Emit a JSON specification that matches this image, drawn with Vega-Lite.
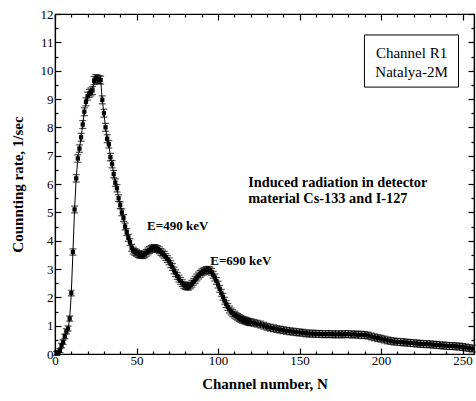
{
  "$schema": "https://vega.github.io/schema/vega-lite/v6.json",
  "autosize": "none",
  "width": 419,
  "height": 340,
  "padding": {"left": 55, "top": 14, "right": 2, "bottom": 47},
  "background": "white",
  "config": {
    "view": {"stroke": "black", "strokeWidth": 1.2},
    "font": "Times New Roman, Liberation Serif, serif",
    "axis": {"labelFont": "Times New Roman, Liberation Serif, serif", "labelFontSize": 13, "labelColor": "black", "titleFont": "Times New Roman, Liberation Serif, serif", "titleFontSize": 15, "titleFontWeight": "bold", "titleColor": "black", "grid": false, "tickColor": "black", "domainColor": "black", "tickWidth": 1.2, "domainWidth": 1.2}
  },
  "datasets": {
    "spec": [
      {"n":1,"r":0.02,"e":0.07},{"n":2,"r":0.05,"e":0.07},{"n":3,"r":0.12,"e":0.07},{"n":4,"r":0.3,"e":0.08},{"n":5,"r":0.42,"e":0.08},
      {"n":6,"r":0.62,"e":0.08},{"n":7,"r":0.8,"e":0.09},{"n":8,"r":0.9,"e":0.09},{"n":9,"r":1.25,"e":0.09},{"n":10,"r":2.15,"e":0.1},
      {"n":11,"r":3.6,"e":0.11},{"n":12,"r":5.1,"e":0.12},{"n":13,"r":6.2,"e":0.13},{"n":14,"r":6.9,"e":0.13},{"n":15,"r":7.25,"e":0.13},
      {"n":16,"r":7.65,"e":0.14},{"n":17,"r":8.1,"e":0.14},{"n":18,"r":8.55,"e":0.14},{"n":19,"r":8.9,"e":0.14},{"n":20,"r":9.1,"e":0.14},
      {"n":21,"r":9.2,"e":0.14},{"n":22,"r":9.25,"e":0.14},{"n":23,"r":9.3,"e":0.14},{"n":24,"r":9.65,"e":0.14},{"n":25,"r":9.72,"e":0.14},
      {"n":26,"r":9.7,"e":0.14},{"n":27,"r":9.68,"e":0.14},{"n":28,"r":9.67,"e":0.14},{"n":29,"r":8.97,"e":0.14},{"n":30,"r":8.5,"e":0.14},
      {"n":31,"r":8.0,"e":0.14},{"n":32,"r":7.6,"e":0.14},{"n":33,"r":7.4,"e":0.13},{"n":34,"r":6.95,"e":0.13},{"n":35,"r":6.7,"e":0.13},
      {"n":36,"r":6.35,"e":0.13},{"n":37,"r":6.05,"e":0.13},{"n":38,"r":5.85,"e":0.13},{"n":39,"r":5.5,"e":0.12},{"n":40,"r":5.25,"e":0.12},
      {"n":41,"r":5.0,"e":0.12},{"n":42,"r":4.8,"e":0.12},{"n":43,"r":4.5,"e":0.12},{"n":44,"r":4.3,"e":0.12},{"n":45,"r":4.1,"e":0.12},
      {"n":46,"r":3.95,"e":0.12},{"n":47,"r":3.75,"e":0.12},{"n":48,"r":3.65,"e":0.12},{"n":49,"r":3.6,"e":0.12},{"n":50,"r":3.57,"e":0.12},
      {"n":51,"r":3.53,"e":0.12},{"n":52,"r":3.5,"e":0.12},{"n":53,"r":3.5,"e":0.12},{"n":54,"r":3.49,"e":0.12},{"n":55,"r":3.52,"e":0.12},
      {"n":56,"r":3.57,"e":0.12},{"n":57,"r":3.62,"e":0.12},{"n":58,"r":3.67,"e":0.12},{"n":59,"r":3.71,"e":0.12},{"n":60,"r":3.73,"e":0.12},
      {"n":61,"r":3.74,"e":0.12},{"n":62,"r":3.72,"e":0.12},{"n":63,"r":3.7,"e":0.12},{"n":64,"r":3.66,"e":0.12},{"n":65,"r":3.6,"e":0.12},
      {"n":66,"r":3.55,"e":0.12},{"n":67,"r":3.5,"e":0.12},{"n":68,"r":3.42,"e":0.12},{"n":69,"r":3.35,"e":0.12},{"n":70,"r":3.27,"e":0.12},
      {"n":71,"r":3.17,"e":0.12},{"n":72,"r":3.07,"e":0.12},{"n":73,"r":2.95,"e":0.12},{"n":74,"r":2.85,"e":0.12},{"n":75,"r":2.75,"e":0.12},
      {"n":76,"r":2.66,"e":0.12},{"n":77,"r":2.58,"e":0.12},{"n":78,"r":2.5,"e":0.12},{"n":79,"r":2.43,"e":0.12},{"n":80,"r":2.4,"e":0.12},
      {"n":81,"r":2.38,"e":0.12},{"n":82,"r":2.38,"e":0.12},{"n":83,"r":2.42,"e":0.12},{"n":84,"r":2.48,"e":0.12},{"n":85,"r":2.55,"e":0.12},
      {"n":86,"r":2.62,"e":0.12},{"n":87,"r":2.7,"e":0.12},{"n":88,"r":2.77,"e":0.12},{"n":89,"r":2.83,"e":0.12},{"n":90,"r":2.88,"e":0.12},
      {"n":91,"r":2.91,"e":0.12},{"n":92,"r":2.94,"e":0.12},{"n":93,"r":2.96,"e":0.12},{"n":94,"r":2.97,"e":0.12},{"n":95,"r":2.95,"e":0.12},
      {"n":96,"r":2.9,"e":0.12},{"n":97,"r":2.8,"e":0.12},{"n":98,"r":2.7,"e":0.12},{"n":99,"r":2.58,"e":0.12},{"n":100,"r":2.45,"e":0.12},
      {"n":101,"r":2.3,"e":0.12},{"n":102,"r":2.16,"e":0.12},{"n":103,"r":2.02,"e":0.12},{"n":104,"r":1.88,"e":0.12},{"n":105,"r":1.76,"e":0.12},
      {"n":106,"r":1.66,"e":0.12},{"n":107,"r":1.57,"e":0.12},{"n":108,"r":1.5,"e":0.12},{"n":109,"r":1.44,"e":0.12},{"n":110,"r":1.39,"e":0.12},
      {"n":111,"r":1.35,"e":0.12},{"n":112,"r":1.31,"e":0.12},{"n":113,"r":1.27,"e":0.12},{"n":114,"r":1.24,"e":0.12},{"n":115,"r":1.21,"e":0.12},
      {"n":116,"r":1.19,"e":0.12},{"n":117,"r":1.17,"e":0.12},{"n":118,"r":1.15,"e":0.12},{"n":119,"r":1.13,"e":0.12},{"n":120,"r":1.12,"e":0.12},
      {"n":122,"r":1.1,"e":0.12},{"n":124,"r":1.07,"e":0.12},{"n":126,"r":1.04,"e":0.12},{"n":128,"r":1.0,"e":0.12},{"n":130,"r":0.96,"e":0.12},
      {"n":132,"r":0.93,"e":0.12},{"n":134,"r":0.91,"e":0.12},{"n":136,"r":0.88,"e":0.12},{"n":138,"r":0.86,"e":0.12},{"n":140,"r":0.84,"e":0.12},
      {"n":142,"r":0.82,"e":0.12},{"n":144,"r":0.8,"e":0.12},{"n":146,"r":0.79,"e":0.12},{"n":148,"r":0.77,"e":0.12},{"n":150,"r":0.76,"e":0.12},
      {"n":152,"r":0.75,"e":0.12},{"n":154,"r":0.73,"e":0.12},{"n":156,"r":0.72,"e":0.12},{"n":158,"r":0.72,"e":0.12},{"n":160,"r":0.71,"e":0.12},
      {"n":162,"r":0.71,"e":0.12},{"n":164,"r":0.7,"e":0.12},{"n":166,"r":0.7,"e":0.12},{"n":168,"r":0.7,"e":0.12},{"n":170,"r":0.7,"e":0.12},
      {"n":172,"r":0.69,"e":0.12},{"n":174,"r":0.7,"e":0.12},{"n":176,"r":0.69,"e":0.12},{"n":178,"r":0.7,"e":0.12},{"n":180,"r":0.7,"e":0.12},
      {"n":182,"r":0.69,"e":0.12},{"n":184,"r":0.69,"e":0.12},{"n":186,"r":0.68,"e":0.12},{"n":188,"r":0.68,"e":0.12},{"n":190,"r":0.67,"e":0.12},
      {"n":192,"r":0.65,"e":0.12},{"n":194,"r":0.62,"e":0.12},{"n":196,"r":0.59,"e":0.12},{"n":198,"r":0.56,"e":0.12},{"n":200,"r":0.54,"e":0.12},
      {"n":202,"r":0.51,"e":0.12},{"n":204,"r":0.48,"e":0.12},{"n":206,"r":0.46,"e":0.12},{"n":208,"r":0.44,"e":0.12},{"n":210,"r":0.43,"e":0.12},
      {"n":212,"r":0.42,"e":0.12},{"n":214,"r":0.41,"e":0.12},{"n":216,"r":0.4,"e":0.12},{"n":218,"r":0.39,"e":0.12},{"n":220,"r":0.38,"e":0.12},
      {"n":222,"r":0.37,"e":0.12},{"n":224,"r":0.36,"e":0.12},{"n":226,"r":0.35,"e":0.12},{"n":228,"r":0.35,"e":0.12},{"n":230,"r":0.34,"e":0.12},
      {"n":232,"r":0.33,"e":0.12},{"n":234,"r":0.32,"e":0.12},{"n":236,"r":0.31,"e":0.12},{"n":238,"r":0.3,"e":0.12},{"n":240,"r":0.29,"e":0.12},
      {"n":242,"r":0.28,"e":0.12},{"n":244,"r":0.28,"e":0.12},{"n":246,"r":0.27,"e":0.12},{"n":248,"r":0.26,"e":0.12},{"n":250,"r":0.25,"e":0.12},
      {"n":252,"r":0.23,"e":0.12},{"n":254,"r":0.21,"e":0.12},{"n":256,"r":0.19,"e":0.12}
    ],
    "notes": [
      {"x":56.5,"y":4.52,"t":"E=490 keV"},
      {"x":95.2,"y":3.28,"t":"E=690 keV"}
    ],
    "induced": [
      {"x":118.5,"y":6.04,"t":"Induced radiation in detector"},
      {"x":118.5,"y":5.47,"t":"material Cs-133 and I-127"}
    ],
    "box": [{"x1":189.8,"x2":247.5,"y1":9.42,"y2":11.26}],
    "boxtext": [
      {"x":218.7,"y":10.62,"t":"Channel R1"},
      {"x":218.7,"y":9.95,"t":"Natalya-2M"}
    ]
  },
  "resolve": {"axis": {"x": "independent", "y": "independent"}},
  "layer": [
    {
      "data": {"name": "spec"},
      "mark": {"type": "line", "color": "black", "strokeWidth": 1},
      "encoding": {
        "x": {"field": "n", "type": "quantitative", "scale": {"domain": [0, 257], "nice": false, "zero": false},
              "axis": {"orient": "bottom", "values": [0,50,100,150,200,250], "tickSize": -6, "labelPadding": 6, "title": "Channel number, N", "titlePadding": 9, "labelFlush": false}},
        "y": {"field": "r", "type": "quantitative", "scale": {"domain": [0, 12], "nice": false, "zero": false},
              "axis": {"orient": "left", "values": [0,1,2,3,4,5,6,7,8,9,10,11,12], "tickSize": -6, "labelPadding": 8, "title": "Counnting rate, 1/sec", "titlePadding": 15}}
      }
    },
    {
      "data": {"name": "spec"},
      "mark": {"type": "errorbar", "color": "black", "thickness": 1.2, "ticks": {"size": 7, "thickness": 1.2, "color": "black"}},
      "encoding": {
        "x": {"field": "n", "type": "quantitative", "axis": {"orient": "bottom", "values": [10,20,30,40,60,70,80,90,110,120,130,140,160,170,180,190,210,220,230,240], "tickSize": -3, "labels": false, "domain": false, "title": null}},
        "y": {"field": "r", "type": "quantitative", "axis": {"orient": "left", "values": [0.5,1.5,2.5,3.5,4.5,5.5,6.5,7.5,8.5,9.5,10.5,11.5], "tickSize": -3, "labels": false, "domain": false, "title": null}},
        "yError": {"field": "e"}
      }
    },
    {
      "data": {"name": "spec"},
      "mark": {"type": "point", "shape": "square", "filled": true, "color": "black", "size": 18, "opacity": 1},
      "encoding": {
        "x": {"field": "n", "type": "quantitative", "axis": {"orient": "top", "values": [0,50,100,150,200,250], "tickSize": -6, "labels": false, "title": null}},
        "y": {"field": "r", "type": "quantitative", "axis": {"orient": "right", "values": [0,1,2,3,4,5,6,7,8,9,10,11,12], "tickSize": -6, "labels": false, "title": null}}
      }
    },
    {
      "data": {"name": "notes"},
      "mark": {"type": "text", "align": "left", "baseline": "middle", "font": "Times New Roman, Liberation Serif, serif", "fontWeight": "bold", "fontSize": 13, "color": "black"},
      "encoding": {
        "x": {"field": "x", "type": "quantitative", "axis": {"orient": "top", "values": [10,20,30,40,60,70,80,90,110,120,130,140,160,170,180,190,210,220,230,240], "tickSize": -3, "labels": false, "domain": false, "title": null}},
        "y": {"field": "y", "type": "quantitative", "axis": {"orient": "right", "values": [0.5,1.5,2.5,3.5,4.5,5.5,6.5,7.5,8.5,9.5,10.5,11.5], "tickSize": -3, "labels": false, "domain": false, "title": null}},
        "text": {"field": "t"}
      }
    },
    {
      "data": {"name": "induced"},
      "mark": {"type": "text", "align": "left", "baseline": "middle", "font": "Times New Roman, Liberation Serif, serif", "fontWeight": "bold", "fontSize": 14.3, "color": "black"},
      "encoding": {
        "x": {"field": "x", "type": "quantitative", "axis": null},
        "y": {"field": "y", "type": "quantitative", "axis": null},
        "text": {"field": "t"}
      }
    },
    {
      "data": {"name": "box"},
      "mark": {"type": "rect", "fill": "white", "stroke": "black", "strokeWidth": 1},
      "encoding": {
        "x": {"field": "x1", "type": "quantitative", "axis": null},
        "x2": {"field": "x2"},
        "y": {"field": "y1", "type": "quantitative", "axis": null},
        "y2": {"field": "y2"}
      }
    },
    {
      "data": {"name": "boxtext"},
      "mark": {"type": "text", "align": "center", "baseline": "middle", "font": "Times New Roman, Liberation Serif, serif", "fontSize": 15, "color": "black"},
      "encoding": {
        "x": {"field": "x", "type": "quantitative", "axis": null},
        "y": {"field": "y", "type": "quantitative", "axis": null},
        "text": {"field": "t"}
      }
    }
  ]
}
